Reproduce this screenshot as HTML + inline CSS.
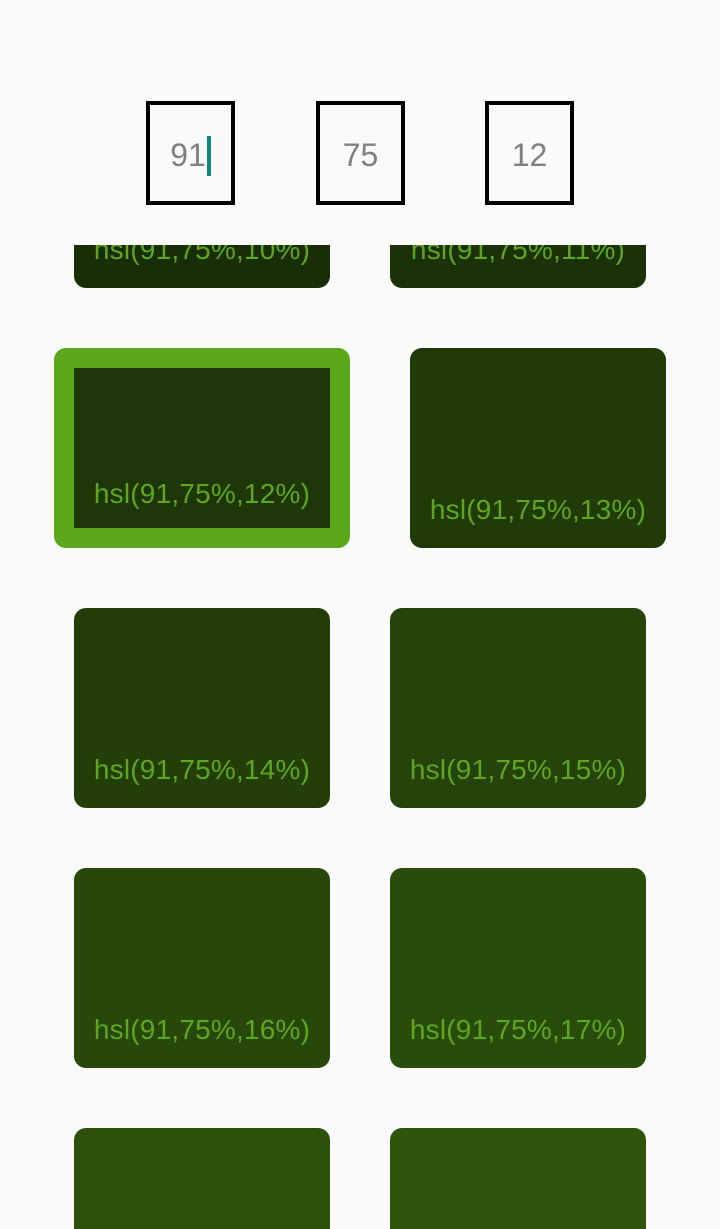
<!DOCTYPE html>
<html><head><meta charset="utf-8"><style>
html,body{margin:0;padding:0;background:#fafafa;width:720px;height:1229px;overflow:hidden;font-family:"Liberation Sans",sans-serif;}
.inp{position:absolute;top:101px;width:81px;height:96px;border:4px solid #000;background:#fafafa;font-size:32px;color:#808080;line-height:100px;text-align:center;box-sizing:content-box}
.grid{position:absolute;left:0;top:245px;width:720px;height:984px;overflow:hidden}
.tile{position:absolute;width:256px;height:200px;border-radius:12px;box-sizing:border-box;overflow:hidden}
.lbl{position:absolute;left:-20px;right:-20px;bottom:22px;text-align:center;font-size:28px;letter-spacing:0.2px;color:#5ea620;line-height:32px;white-space:nowrap}
.caret{display:inline-block;width:4px;height:40px;background:#0f8a7a;vertical-align:middle;margin-left:1px;position:relative;top:-2px}
</style></head><body>
<div class="inp" style="left:146px">91<span class="caret"></span></div>
<div class="inp" style="left:316px">75</div>
<div class="inp" style="left:485px">12</div>
<div class="grid">
<div class="tile" style="left:74px;top:-157px;background:hsl(91,75%,10%)"><div class="lbl">hsl(91,75%,10%)</div></div>
<div class="tile" style="left:390px;top:-157px;background:hsl(91,75%,11%)"><div class="lbl">hsl(91,75%,11%)</div></div>
<div class="tile" style="left:54px;top:103px;width:296px;border:20px solid #5ba71b;background:hsl(91,75%,12%)"><div class="lbl" style="bottom:18px">hsl(91,75%,12%)</div></div>
<div class="tile" style="left:410px;top:103px;background:hsl(91,75%,13%)"><div class="lbl">hsl(91,75%,13%)</div></div>
<div class="tile" style="left:74px;top:363px;background:hsl(91,75%,14%)"><div class="lbl">hsl(91,75%,14%)</div></div>
<div class="tile" style="left:390px;top:363px;background:hsl(91,75%,15%)"><div class="lbl">hsl(91,75%,15%)</div></div>
<div class="tile" style="left:74px;top:623px;background:hsl(91,75%,16%)"><div class="lbl">hsl(91,75%,16%)</div></div>
<div class="tile" style="left:390px;top:623px;background:hsl(91,75%,17%)"><div class="lbl">hsl(91,75%,17%)</div></div>
<div class="tile" style="left:74px;top:883px;height:101px;border-radius:12px 12px 0 0;background:hsl(91,75%,18%)"></div>
<div class="tile" style="left:390px;top:883px;height:101px;border-radius:12px 12px 0 0;background:hsl(91,75%,19%)"></div>
</div>
</body></html>
